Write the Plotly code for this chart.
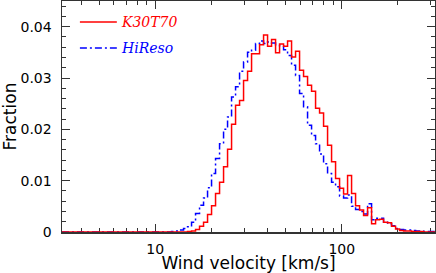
import numpy as np
import plotly.graph_objects as go

# ---- data ----
series_names = ["K30T70", "HiReso"]
log_first_edge = 1.0874        # log10(km/s) of first bin edge
bin_width_dex = 0.02145        # log10 bin width

k30t70_fraction = [
    0, 0, 0, 0, 0.0001, 0.0002, 0.0005, 0.0011, 0.0019, 0.0034, 0.0051, 0.0075,
    0.0097, 0.0127, 0.0161, 0.0210, 0.0247, 0.0256, 0.0295, 0.0313, 0.0347, 0.0347,
    0.0365, 0.0384, 0.0362, 0.0375, 0.0349, 0.0366, 0.0362, 0.0372, 0.0341, 0.0352,
    0.0315, 0.0303, 0.0286, 0.0274, 0.0241, 0.0232, 0.0206, 0.0169, 0.0137, 0.0104,
    0.0085, 0.0074, 0.0110, 0.0075, 0.0051, 0.0043, 0.0032, 0.0047, 0.0016, 0.0024,
    0.0025, 0.0019, 0.0018, 0.0011, 0.0006, 0.0003, 0.0002, 0.0002, 0.0001, 0.0001,
    0.0001, 0, 0, 0,
]
hireso_fraction = [
    0.0001, 0.0002, 0.0004, 0.0007, 0.0010, 0.0019, 0.0036, 0.0052, 0.0066, 0.0086,
    0.0114, 0.0143, 0.0172, 0.0200, 0.0224, 0.0263, 0.0283, 0.0313, 0.0331, 0.0350,
    0.0354, 0.0367, 0.0372, 0.0367, 0.0370, 0.0368, 0.0365, 0.0363, 0.0355, 0.0344,
    0.0325, 0.0305, 0.0270, 0.0244, 0.0208, 0.0188, 0.0172, 0.0152, 0.0133, 0.0114,
    0.0097, 0.0088, 0.0070, 0.0066, 0.0072, 0.0050, 0.0044, 0.0040, 0.0035, 0.0055,
    0.0024, 0.0027, 0.0027, 0.0019, 0.0016, 0.0012, 0.0007, 0.0005, 0.0004, 0.0004,
    0.0003, 0.0002, 0.0002, 0.0001, 0.0001, 0.0001,
]
x_tick_values = [10, 100]
x_tick_labels = ["10", "100"]
x_minor_ticks = [4, 5, 6, 7, 8, 9, 20, 30, 40, 50, 60, 70, 80, 90, 200, 300]
y_tick_values = [0, 0.01, 0.02, 0.03, 0.04]
y_tick_labels = ["0", "0.01", "0.02", "0.03", "0.04"]
x_range_log = [0.5, 2.5]
y_range = [0, 0.045]


def step_xy(values):
    n = len(values)
    edges = 10 ** (log_first_edge + bin_width_dex * np.arange(n + 1))
    xs = [10 ** x_range_log[0]] + list(edges) + [10 ** x_range_log[1]]
    ys = [0] + list(values) + [0, 0]
    return xs, ys


fig = go.Figure()
rx, ry = step_xy(k30t70_fraction)
bx, by = step_xy(hireso_fraction)
fig.add_trace(go.Scatter(x=bx, y=by, mode="lines", line_shape="hv", name=series_names[1],
                         line=dict(color="#0000ff", width=1.5, dash="7px,3px,2px,3px"),
                         showlegend=False))
fig.add_trace(go.Scatter(x=rx, y=ry, mode="lines", line_shape="hv", name=series_names[0],
                         line=dict(color="#ff0000", width=1.5), showlegend=False))

axis_common = dict(
    showline=True, linecolor="#333333", linewidth=1.5, mirror="ticks",
    ticks="inside", ticklen=8, tickwidth=1, tickcolor="#333333",
    showgrid=False, zeroline=False, layer="below traces", automargin=False,
    tickfont=dict(family="DejaVu Sans", size=14, color="black"),
)
fig.update_xaxes(type="log", range=x_range_log, tickvals=x_tick_values, ticktext=x_tick_labels,
                 minor=dict(ticks="inside", ticklen=4, tickcolor="#333333", tickvals=x_minor_ticks),
                 title=dict(text="Wind velocity [km/s]", font=dict(family="DejaVu Sans", size=17, color="black"),
                            standoff=2),
                 ticklabelstandoff=4,
                 **axis_common)
fig.update_yaxes(range=y_range, tickvals=y_tick_values, ticktext=y_tick_labels,
                 minor=dict(ticks="inside", ticklen=4, tickcolor="#333333", dtick=0.002),
                 title=dict(text="Fraction", font=dict(family="DejaVu Sans", size=17, color="black"),
                            standoff=6),
                 ticklabelstandoff=6,
                 **axis_common)

# legend drawn as line samples + italic labels
legend_items = [(series_names[0], "#ff0000", "solid", 0.909),
                (series_names[1], "#0000ff", "7px,3px,2px,3px", 0.797)]
for name, col, dash, yp in legend_items:
    fig.add_shape(type="line", xref="paper", yref="paper", x0=0.048, x1=0.147, y0=yp, y1=yp,
                  line=dict(color=col, width=1.5, dash=dash))
    fig.add_annotation(xref="paper", yref="paper", x=0.153, y=yp, text=name, showarrow=False,
                       xanchor="left", yanchor="middle",
                       font=dict(family="DejaVu Serif", size=14, color=col, style="italic"))

fig.update_layout(width=436, height=273, margin=dict(l=62, r=1, t=1, b=41),
                  paper_bgcolor="white", plot_bgcolor="white")
fig.write_html("out.html", config={"displayModeBar": False, "staticPlot": True},
               post_script="document.body.style.margin='0px';")
